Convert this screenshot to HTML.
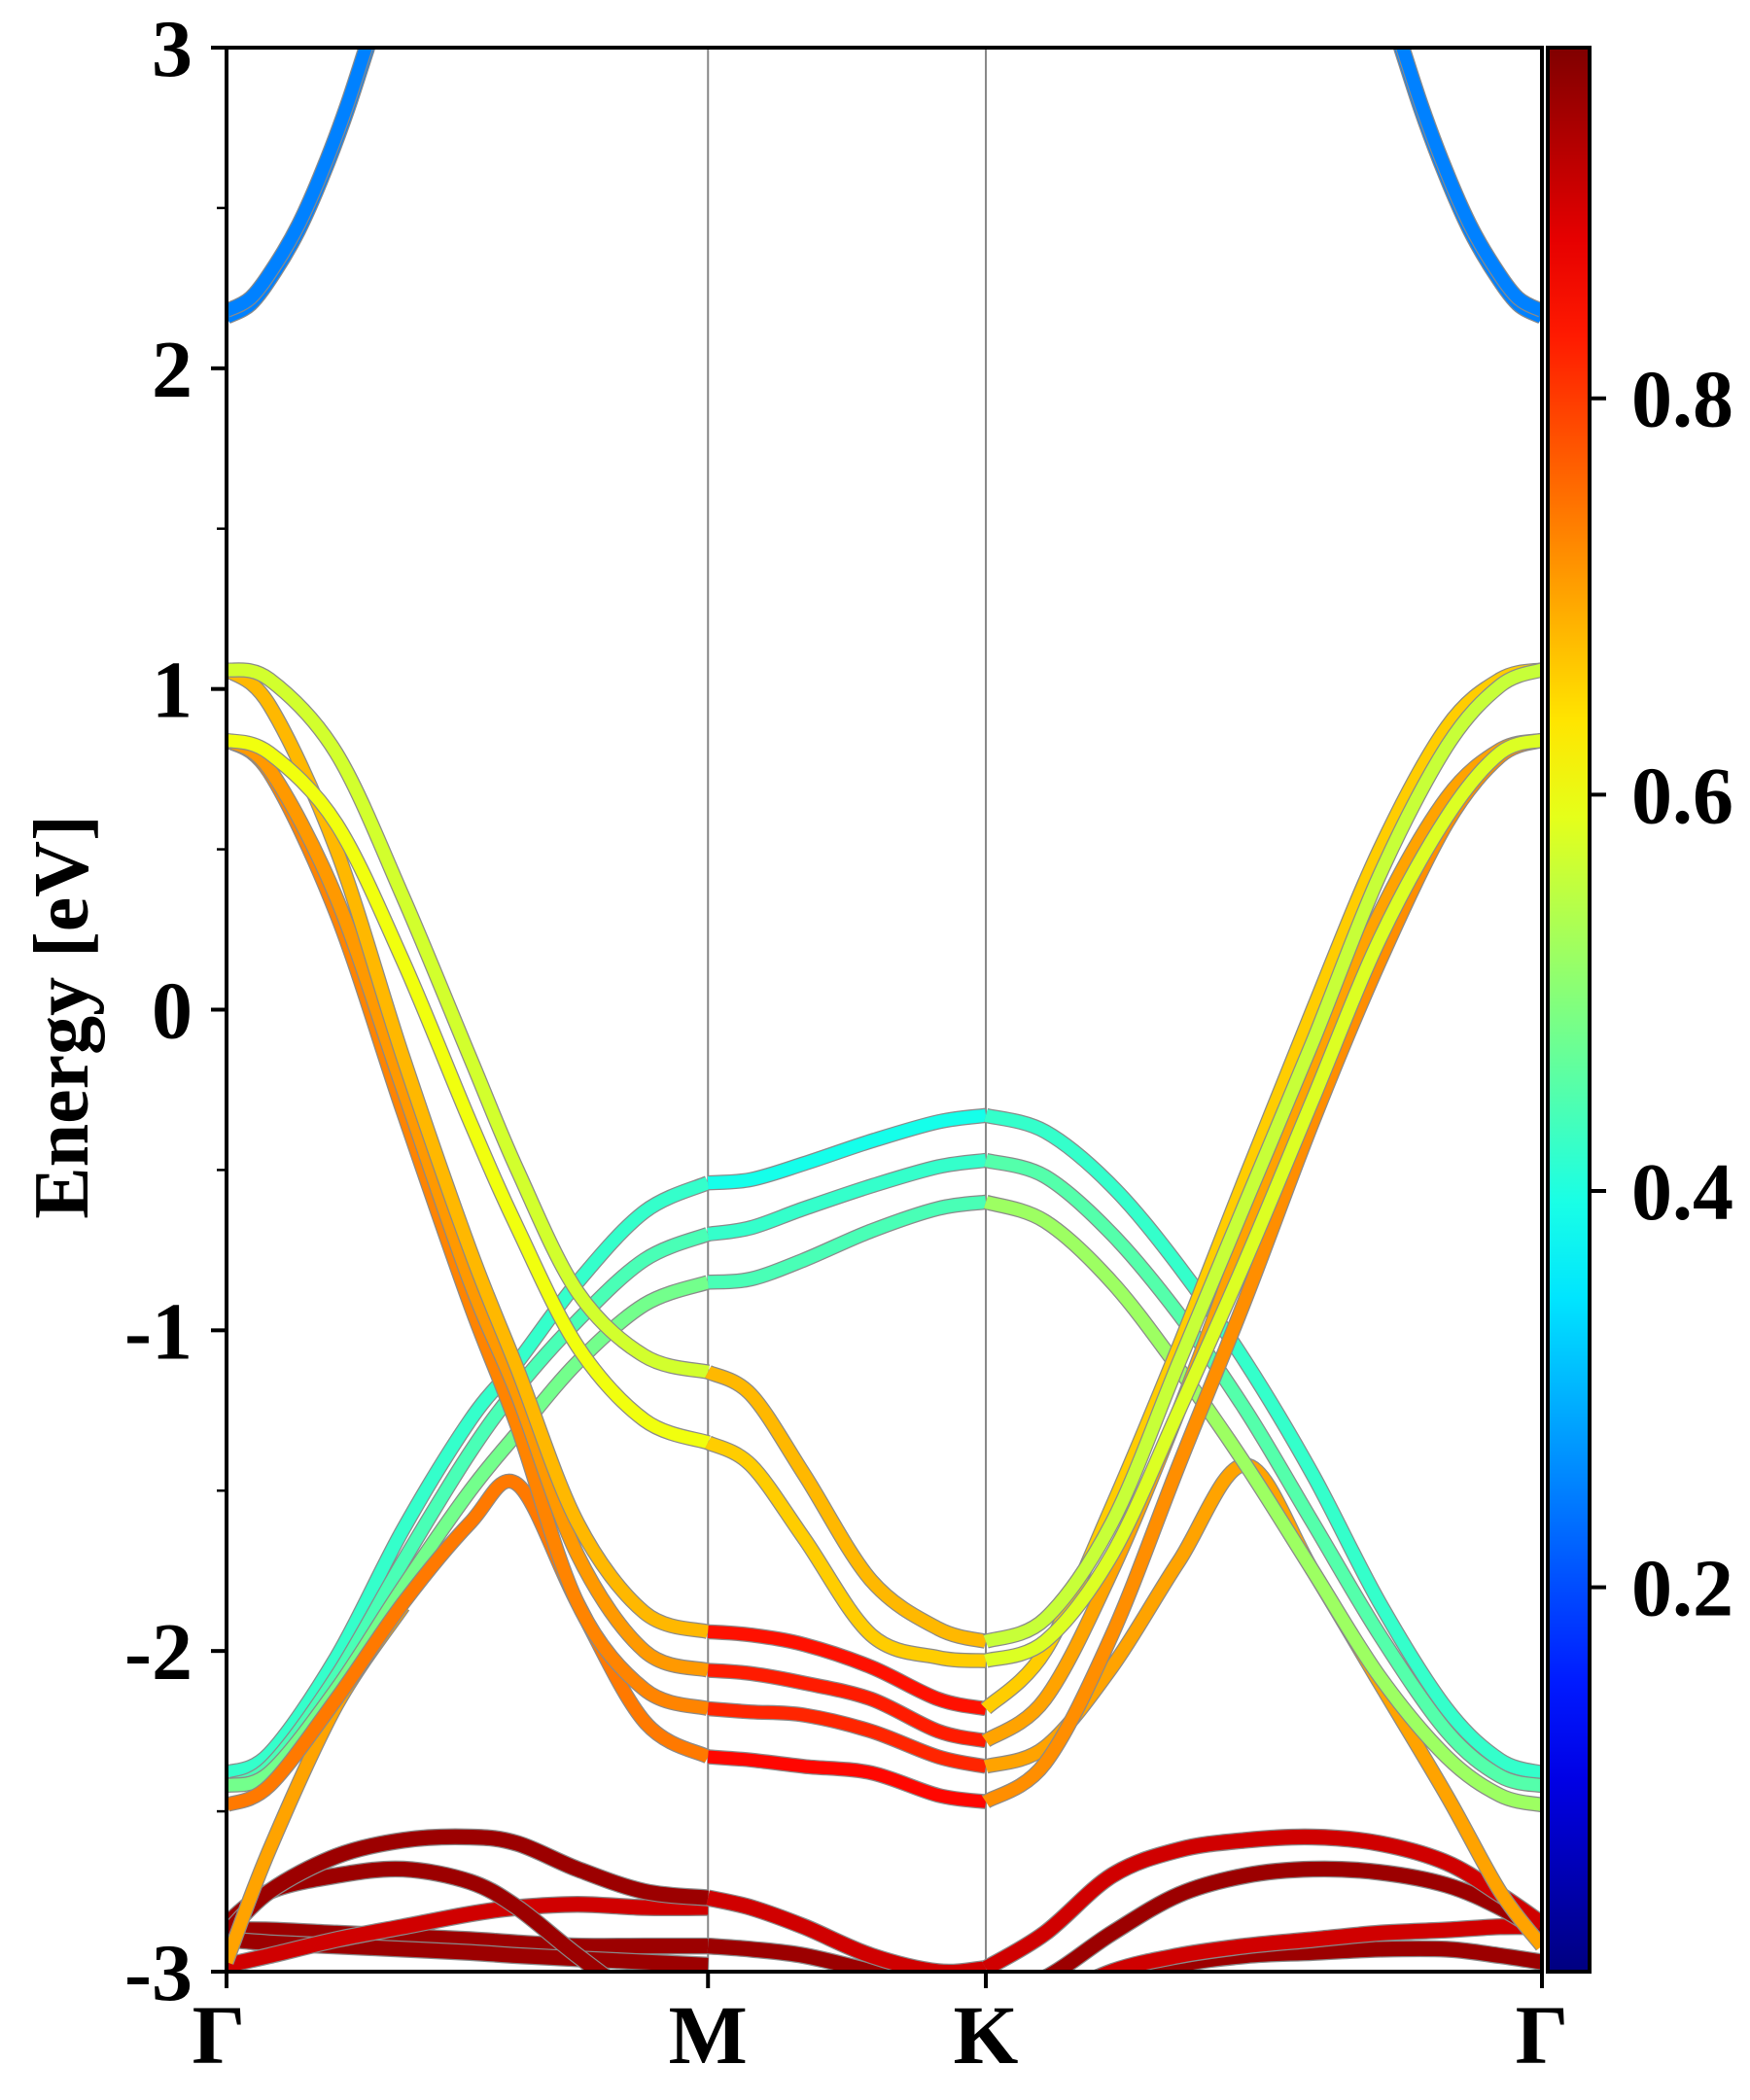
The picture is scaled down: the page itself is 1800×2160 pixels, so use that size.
<!DOCTYPE html>
<html><head><meta charset="utf-8"><title>Band structure</title>
<style>
html,body{margin:0;padding:0;background:#fff;}
svg{display:block;}
text{font-family:"Liberation Serif","Times New Roman",serif;font-weight:bold;fill:#000;}
</style></head>
<body>
<svg id="chart" width="1800" height="2160" viewBox="0 0 1800 2160" xmlns="http://www.w3.org/2000/svg">
<defs>
<clipPath id="plotclip"><rect x="233" y="49" width="1353" height="1979"/></clipPath>
<linearGradient id="jetgrad" x1="0" y1="1" x2="0" y2="0"></linearGradient>
</defs>
<rect x="233" y="49" width="1353" height="1979" fill="#fff"/>
<g id="kLines"></g>
<g id="bands" clip-path="url(#plotclip)"></g>
<rect x="233" y="49" width="1353" height="1979" fill="none" stroke="#000" stroke-width="4"/>
<g id="yAxis"></g>
<g id="xAxis"></g>
<text x="0" y="0" font-size="80" text-anchor="middle" transform="translate(90,1046) rotate(-90)">Energy [eV]</text>
<rect id="cbar" x="1592" y="49" width="43" height="1979" fill="url(#jetgrad)" stroke="#000" stroke-width="4"/>
<g id="cAxis"></g>
</svg>
<script>
// ---- data ----
const yTicks = [-3,-2,-1,0,1,2,3];
const yTickLabels = ["-3","-2","-1","0","1","2","3"];
const yMinorTicks = [-2.5,-1.5,-0.5,0.5,1.5,2.5];
const kPoints = [0, 1.0, 1.577, 2.732];
const kLabels = ["Γ","M","K","Γ"];
const cTicks = [0.2,0.4,0.6,0.8];
const cTickLabels = ["0.2","0.4","0.6","0.8"];
const cMin = 0.006, cMax = 0.977;
// k sample positions for each segment
const kGM = [0,0.089,0.228,0.367,0.506,0.604,0.729,0.868,1.0];
const kMK = [1.0,1.089,1.2,1.339,1.478,1.577];
const kKG = [1.577,1.70,1.839,1.978,2.117,2.256,2.395,2.534,2.645,2.732];
const kCB = [0,0.05,0.1,0.15,0.2,0.25,0.3,0.35,0.4];
const kCBr = [2.732,2.682,2.632,2.582,2.532,2.482,2.432,2.382,2.332];
const kGs = [0,0.089,0.228,0.367];
// conduction bands
const eCB1 = [2.16,2.2,2.3,2.43,2.6,2.8,3.03,3.25,3.5];
const eCB2 = [2.18,2.22,2.32,2.45,2.62,2.82,3.05,3.27,3.52];
// Gamma-M bands
const eGM_L1 = [-2.38,-2.32,-2.02,-1.62,-1.28,-1.1,-0.85,-0.63,-0.54];
const eGM_L2 = [-2.42,-2.36,-2.08,-1.72,-1.38,-1.18,-0.97,-0.78,-0.70];
const eGM_L3 = [-2.42,-2.38,-2.12,-1.8,-1.5,-1.32,-1.1,-0.92,-0.85];
const eGM_D1 = [1.06,1.03,0.8,0.35,-0.15,-0.5,-0.88,-1.08,-1.13];
const eGM_D2 = [0.84,0.8,0.58,0.15,-0.35,-0.68,-1.05,-1.28,-1.35];
const eGM_D3 = [1.06,0.95,0.5,-0.15,-0.75,-1.12,-1.6,-1.88,-1.94];
const eGM_D4 = [0.84,0.75,0.35,-0.25,-0.85,-1.2,-1.7,-2.0,-2.06];
const eGM_D5 = [0.84,0.74,0.3,-0.32,-0.92,-1.3,-1.85,-2.12,-2.18];
const eGM_P  = [-2.48,-2.42,-2.15,-1.85,-1.6,-1.48,-1.85,-2.22,-2.33];
const eGM_Y  = [-2.97,-2.62,-2.17,-1.86];
const eGM_R1 = [-2.88,-2.75,-2.64,-2.59,-2.58,-2.6,-2.68,-2.75,-2.77];
const eGM_R2 = [-2.85,-2.75,-2.7,-2.68,-2.72,-2.8,-2.95,-3.1,-3.2];
const eGM_R3 = [-2.98,-2.95,-2.9,-2.86,-2.82,-2.8,-2.79,-2.8,-2.8];
const eGM_R4 = [-2.87,-2.87,-2.88,-2.89,-2.9,-2.91,-2.92,-2.92,-2.92];
const eGM_R5 = [-2.9,-2.91,-2.92,-2.93,-2.94,-2.95,-2.96,-2.97,-2.98];
// M-K bands
const eMK_C1 = [-0.54,-0.53,-0.48,-0.41,-0.35,-0.33];
const eMK_C2 = [-0.70,-0.68,-0.62,-0.55,-0.49,-0.47];
const eMK_C3 = [-0.85,-0.84,-0.78,-0.69,-0.62,-0.60];
const eMK_Y1 = [-1.13,-1.2,-1.45,-1.78,-1.93,-1.97];
const eMK_Y2 = [-1.35,-1.42,-1.65,-1.95,-2.02,-2.03];
const eMK_O1 = [-1.94,-1.95,-1.98,-2.05,-2.15,-2.18];
const eMK_O2 = [-2.06,-2.07,-2.1,-2.15,-2.25,-2.28];
const eMK_O3 = [-2.18,-2.19,-2.2,-2.25,-2.33,-2.36];
const eMK_O4 = [-2.33,-2.34,-2.36,-2.38,-2.45,-2.47];
const eMK_R1 = [-2.77,-2.8,-2.86,-2.95,-3.0,-2.99];
const eMK_R2 = [-2.92,-2.93,-2.95,-3.0,-3.06,-3.08];
// K-Gamma bands
const eKG_R1 = [-0.33,-0.38,-0.55,-0.8,-1.1,-1.45,-1.85,-2.18,-2.34,-2.38];
const eKG_R2 = [-0.47,-0.52,-0.7,-0.95,-1.25,-1.6,-1.95,-2.25,-2.39,-2.42];
const eKG_R3 = [-0.60,-0.66,-0.85,-1.12,-1.42,-1.75,-2.08,-2.33,-2.45,-2.48];
const eKG_U1 = [-1.97,-1.9,-1.6,-1.1,-0.6,-0.1,0.42,0.82,1.01,1.06];
const eKG_U2 = [-2.03,-1.97,-1.7,-1.25,-0.78,-0.28,0.22,0.6,0.8,0.84];
const eKG_U3 = [-2.18,-2.0,-1.55,-1.05,-0.52,0.0,0.5,0.88,1.03,1.06];
const eKG_U4 = [-2.28,-2.15,-1.75,-1.25,-0.7,-0.18,0.3,0.66,0.81,0.84];
const eKG_U5 = [-2.47,-2.35,-1.95,-1.42,-0.9,-0.35,0.15,0.58,0.79,0.84];
const eKG_P  = [-2.36,-2.3,-2.05,-1.72,-1.42,-1.75,-2.1,-2.45,-2.75,-2.92];
const eKG_D1 = [-2.99,-2.88,-2.7,-2.62,-2.59,-2.58,-2.6,-2.66,-2.76,-2.85];
const eKG_D2 = [-3.08,-3.02,-2.88,-2.76,-2.7,-2.68,-2.69,-2.73,-2.8,-2.88];
const eKG_D3 = [-3.2,-3.1,-3.0,-2.95,-2.92,-2.9,-2.88,-2.87,-2.86,-2.86];
const eKG_D4 = [-3.3,-3.2,-3.05,-2.98,-2.95,-2.94,-2.93,-2.93,-2.95,-2.97];
const bandK = [kCB,kCB,kCBr,kCBr,
  kGM,kGM,kGM,kGM,kGM,kGs,kGM,kGM,kGM,kGM,kGM,kGM,kGM,kGM,kGM,
  kMK,kMK,kMK,kMK,kMK,kMK,kMK,kMK,kMK,kMK,kMK,
  kKG,kKG,kKG,kKG,kKG,kKG,kKG,kKG,kKG,kKG,kKG,kKG,kKG];
const bandE = [eCB1,eCB2,eCB1,eCB2,
  eGM_R4,eGM_R5,eGM_R3,eGM_R2,eGM_R1,eGM_Y,eGM_L1,eGM_L2,eGM_L3,eGM_P,eGM_D5,eGM_D4,eGM_D3,eGM_D2,eGM_D1,
  eMK_R2,eMK_R1,eMK_C1,eMK_C2,eMK_C3,eMK_O4,eMK_O3,eMK_O2,eMK_O1,eMK_Y2,eMK_Y1,
  eKG_D4,eKG_D3,eKG_D2,eKG_D1,eKG_P,eKG_R1,eKG_R2,eKG_R3,eKG_U5,eKG_U4,eKG_U3,eKG_U2,eKG_U1];
// orbital weight (colour value) per band
const bandW = [0.25,0.25,0.25,0.25,
  0.95,0.95,0.9,0.95,0.95,0.7,0.42,0.44,0.48,0.74,0.73,0.71,0.68,0.6,0.57,
  0.95,0.9,0.39,0.42,0.44,0.85,0.82,0.83,0.84,0.66,0.68,
  0.95,0.9,0.95,0.9,0.7,0.42,0.45,0.52,0.72,0.7,0.66,0.58,0.56];

// ---- axes ----
const X0=233, X1=1586, Y0=49, Y1=2028;
const kMax = 2.732, eMin=-3, eMax=3;
function xScale(k){return X0 + (k/kMax)*(X1-X0);}
function yScale(e){return Y1 - (e-eMin)/(eMax-eMin)*(Y1-Y0);}
function cScale(v){return Y1 - (v-cMin)/(cMax-cMin)*(Y1-Y0);}
function jet(v){
  const x=Math.max(0,Math.min(1,(v-cMin)/(cMax-cMin)));
  const cl=t=>Math.max(0,Math.min(1,t));
  const r=cl(1.5-Math.abs(4*x-3)), g=cl(1.5-Math.abs(4*x-2)), b=cl(1.5-Math.abs(4*x-1));
  return 'rgb('+Math.round(r*255)+','+Math.round(g*255)+','+Math.round(b*255)+')';
}
const NS='http://www.w3.org/2000/svg';
function mk(tag,attrs,parent){const el=document.createElementNS(NS,tag);for(const a in attrs)el.setAttribute(a,attrs[a]);parent.appendChild(el);return el;}

const grad=document.getElementById('jetgrad');
for(let i=0;i<=20;i++){
  const v=cMin+(cMax-cMin)*i/20;
  mk('stop',{offset:(i/20).toFixed(3),'stop-color':jet(v)},grad);
}

const kl=document.getElementById('kLines');
for(let i=1;i<kPoints.length-1;i++){
  const l=mk('line',{x1:xScale(kPoints[i]),x2:xScale(kPoints[i]),y1:Y0,y2:Y1,stroke:'#888',"stroke-width":2},kl);
  
  
}

function pathFor(ks,es){
  const p=ks.map((k,i)=>[xScale(k),yScale(es[i])]);
  let d='M'+p[0][0].toFixed(1)+','+p[0][1].toFixed(1);
  for(let i=0;i<p.length-1;i++){
    const p0=p[Math.max(0,i-1)],p1=p[i],p2=p[i+1],p3=p[Math.min(p.length-1,i+2)];
    const c1=[p1[0]+(p2[0]-p0[0])/6,p1[1]+(p2[1]-p0[1])/6];
    const c2=[p2[0]-(p3[0]-p1[0])/6,p2[1]-(p3[1]-p1[1])/6];
    d+='C'+c1[0].toFixed(1)+','+c1[1].toFixed(1)+' '+c2[0].toFixed(1)+','+c2[1].toFixed(1)+' '+p2[0].toFixed(1)+','+p2[1].toFixed(1);
  }
  return d;
}
const bg=document.getElementById('bands');
for(let b=0;b<bandE.length;b++){
  const d=pathFor(bandK[b],bandE[b]);
  const w=bandW[b]>0.85?15:13;
  const o=mk('path',{d:d,fill:'none',stroke:'#8a8a8a',"stroke-width":w+2.5},bg);
  
  
  const p=mk('path',{d:d,fill:'none',stroke:jet(bandW[b]),"stroke-width":w},bg);
  
  
}

const ya=document.getElementById('yAxis');
yTicks.forEach((t,i)=>{
  const y=yScale(t);
  const l=mk('line',{x1:X0-16,x2:X0,y1:y,y2:y,stroke:'#000',"stroke-width":4},ya);
  
  
  const tx=mk('text',{x:198,y:y+29,"font-size":84,"text-anchor":"end"},ya);
  tx.textContent=yTickLabels[i];
  
  
});
yMinorTicks.forEach(t=>{
  const y=yScale(t);
  const l=mk('line',{x1:X0-10,x2:X0,y1:y,y2:y,stroke:'#000',"stroke-width":2.5},ya);
  
  
});
const xa=document.getElementById('xAxis');
kPoints.forEach((k,i)=>{
  const x=xScale(k);
  const l=mk('line',{x1:x,x2:x,y1:Y1,y2:Y1+17,stroke:'#000',"stroke-width":4},xa);
  
  
  const tx=mk('text',{x:x-(i==0?8:0),y:2122,"font-size":86,"text-anchor":"middle"},xa);
  tx.textContent=kLabels[i];
  
  
});
const ca=document.getElementById('cAxis');
cTicks.forEach((t,i)=>{
  const y=cScale(t);
  const l=mk('line',{x1:1635,x2:1652,y1:y,y2:y,stroke:'#000',"stroke-width":4},ca);
  
  
  const tx=mk('text',{x:1678,y:y+29,"font-size":84,"text-anchor":"start"},ca);
  tx.textContent=cTickLabels[i];
  
  
});
</script>
</body></html>
